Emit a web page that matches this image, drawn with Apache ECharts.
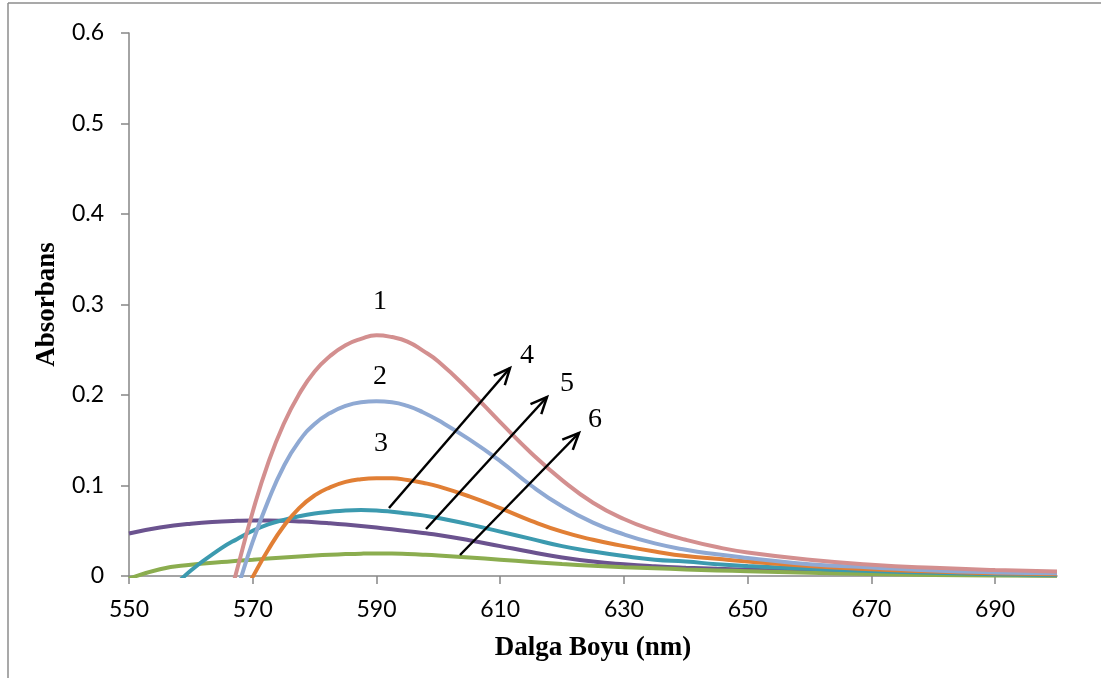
<!DOCTYPE html>
<html>
<head>
<meta charset="utf-8">
<script src="https://cdn.jsdelivr.net/npm/echarts@6/dist/echarts.min.js"></script>
<style>
html, body { margin: 0; padding: 0; background: #fff; }
#main { width: 1101px; height: 678px; }
</style>
</head>
<body>
<div id="main"></div>
<script>
// dalga boyu (nm)
var wavelengths = [550, 555, 560, 565, 567.5, 570, 572.5, 575, 577.5, 580, 582.5, 585, 587.5, 590, 592.5, 595, 597.5, 600,
    605, 610, 615, 620, 625, 630, 635, 640, 645, 650, 660, 670, 680, 690, 700];

// absorbans, egri 1..6
var curve1 = [null, null, null, -0.056, 0.008, 0.071, 0.125, 0.168, 0.201, 0.226, 0.243, 0.255, 0.262, 0.266, 0.264, 0.259, 0.249, 0.237,
    0.205, 0.170, 0.136, 0.106, 0.081, 0.063, 0.050, 0.040, 0.032, 0.026, 0.018, 0.0125, 0.009, 0.0066, 0.005];
var curve2 = [null, null, null, -0.068, -0.015, 0.038, 0.083, 0.121, 0.149, 0.168, 0.180, 0.188, 0.192, 0.193, 0.192, 0.188, 0.181, 0.172,
    0.151, 0.127, 0.100, 0.077, 0.059, 0.046, 0.036, 0.029, 0.024, 0.020, 0.013, 0.0095, 0.006, 0.004, 0.003];
var curve3 = [null, null, null, null, -0.033, -0.001, 0.029, 0.055, 0.075, 0.089, 0.098, 0.104, 0.107, 0.108, 0.108, 0.106, 0.103, 0.099,
    0.088, 0.075, 0.061, 0.049, 0.040, 0.033, 0.027, 0.022, 0.019, 0.016, 0.011, 0.0075, 0.005, 0.003, 0.002];
var curve4 = [null, -0.027, 0.006, 0.031, 0.041, 0.050, 0.057, 0.062, 0.066, 0.069, 0.071, 0.0725, 0.073, 0.0725, 0.071, 0.069, 0.067, 0.064,
    0.057, 0.049, 0.041, 0.033, 0.027, 0.022, 0.018, 0.016, 0.013, 0.011, 0.008, 0.0055, 0.0035, 0.002, 0.001];
var curve5 = [0.047, 0.0535, 0.0578, 0.0603, 0.061, 0.0613, 0.0613, 0.061, 0.0603, 0.0594, 0.0582, 0.0568, 0.0552, 0.0535, 0.0516, 0.0496, 0.0475, 0.0453,
    0.0395, 0.033, 0.0265, 0.0205, 0.016, 0.013, 0.0108, 0.0092, 0.008, 0.007, 0.0052, 0.0037, 0.0024, 0.0013, 0.0006];
var curve6 = [-0.003, 0.0075, 0.0125, 0.0155, 0.0168, 0.018, 0.0193, 0.0205, 0.0216, 0.0226, 0.0235, 0.0242, 0.0247, 0.0249, 0.0248, 0.0243, 0.0236, 0.0227,
    0.0205, 0.018, 0.0155, 0.0132, 0.0113, 0.0097, 0.0085, 0.0073, 0.0062, 0.0052, 0.0035, 0.0021, 0.0012, 0.0006, 0.0003];

var xTicks = [550, 570, 590, 610, 630, 650, 670, 690];

function pairs(ys) {
    return wavelengths.map(function (x, i) { return [x, ys[i]]; });
}

function line(name, ys, color) {
    return {
        name: name,
        type: 'line',
        data: pairs(ys),
        smooth: 0.5,
        showSymbol: false,
        clip: true,
        lineStyle: { color: color, width: 4 }
    };
}

function arrow(x1, y1, x2, y2) {
    var a = Math.atan2(y2 - y1, x2 - x1), len = 18, s = 0.42;
    var style = { stroke: '#000', lineWidth: 2.5, fill: null };
    return [
        { type: 'line', shape: { x1: x1, y1: y1, x2: x2, y2: y2 }, style: style, z: 100 },
        { type: 'polyline', shape: { points: [
            [x2 - len * Math.cos(a - s), y2 - len * Math.sin(a - s)],
            [x2, y2],
            [x2 - len * Math.cos(a + s), y2 - len * Math.sin(a + s)]
        ] }, style: style, z: 100 }
    ];
}

function label(t, x, y) {
    return {
        type: 'text', x: x, y: y, z: 100,
        style: { text: t, fill: '#000', font: '28px "Liberation Serif"', align: 'center', verticalAlign: 'middle' }
    };
}

var axisColor = '#868686';
var tickFont = { color: '#000', fontFamily: 'Lato', fontSize: 23 };

var myChart = echarts.init(document.getElementById('main'));
var option = {
    animation: false,
    backgroundColor: '#fff',
    grid: { left: 129, right: 44, top: 33, bottom: 102 },
    xAxis: {
        type: 'value',
        min: 550,
        max: 700,
        name: 'Dalga Boyu (nm)',
        nameLocation: 'middle',
        nameGap: 59,
        nameTextStyle: { color: '#000', fontFamily: 'Liberation Serif', fontWeight: 'bold', fontSize: 27 },
        splitLine: { show: false },
        axisLine: { onZero: false, lineStyle: { color: axisColor, width: 1.5 } },
        axisTick: { customValues: xTicks, length: 8, lineStyle: { color: axisColor, width: 1.5 } },
        axisLabel: Object.assign({ customValues: xTicks, margin: 22 }, tickFont)
    },
    yAxis: {
        type: 'value',
        min: 0,
        max: 0.6,
        interval: 0.1,
        name: 'Absorbans',
        nameLocation: 'middle',
        nameGap: 68,
        nameTextStyle: { color: '#000', fontFamily: 'Liberation Serif', fontWeight: 'bold', fontSize: 27 },
        splitLine: { show: false },
        axisLine: { show: true, lineStyle: { color: axisColor, width: 1.5 } },
        axisTick: { show: true, length: 8, lineStyle: { color: axisColor, width: 1.5 } },
        axisLabel: Object.assign({ margin: 25 }, tickFont)
    },
    series: [
        line('5', curve5, '#6b538f'),
        line('6', curve6, '#8bad4f'),
        line('4', curve4, '#3c9aaf'),
        line('3', curve3, '#e17f35'),
        line('2', curve2, '#8fa9d3'),
        line('1', curve1, '#d38f8f')
    ],
    graphic: [
        { type: 'line', shape: { x1: 8, y1: 3, x2: 1101, y2: 3 }, style: { stroke: '#8c8c8c', lineWidth: 1.5 } },
        { type: 'line', shape: { x1: 8, y1: 3, x2: 8, y2: 678 }, style: { stroke: '#8c8c8c', lineWidth: 1.5 } },
        label('1', 380, 302),
        label('2', 380, 377),
        label('3', 381, 444),
        label('4', 527, 356),
        label('5', 567, 384),
        label('6', 595, 420)
    ].concat(arrow(389, 508, 510, 368), arrow(426, 529, 547, 397), arrow(460, 555, 579, 433))
};
myChart.setOption(option);
</script>
</body>
</html>
